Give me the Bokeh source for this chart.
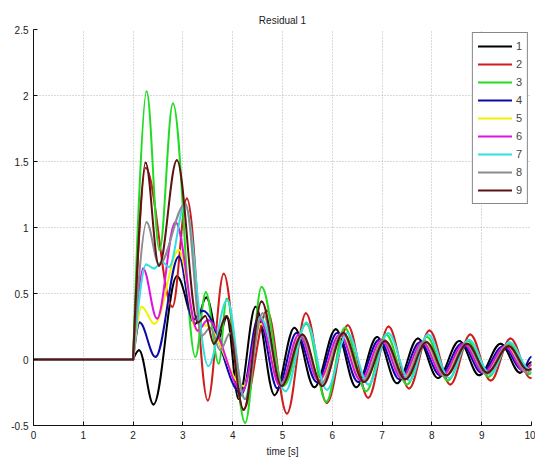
import numpy as np
from bokeh.plotting import figure
from bokeh.models import FixedTicker, Range1d
from bokeh.embed import file_html
from bokeh.resources import INLINE

# ---- data: extrema (time [s], value) ----
names = ["1", "2", "3", "4", "5", "6", "7", "8", "9"]
colors = ["#000000", "#d01c1c", "#22dc22", "#0a0aa5", "#f2f200",
          "#e012e0", "#32e0e0", "#8c8c8c", "#5c1414"]

t1 = [0, 2.0, 2.12, 2.41, 2.88, 3.25, 3.47, 3.72, 3.88, 4.12, 4.46, 4.84, 5.24, 5.64, 6.07, 6.48, 6.9, 7.3, 7.72, 8.12, 8.55, 8.95, 9.38, 9.77, 10.0]
v1 = [0, 0, 0.07, -0.34, 0.63, 0.27, 0.47, 0.16, 0.32, -0.30, 0.40, -0.27, 0.24, -0.21, 0.23, -0.21, 0.17, -0.18, 0.16, -0.14, 0.14, -0.12, 0.12, -0.10, -0.02]

t2 = [0, 2.0, 2.25, 2.79, 3.08, 3.5, 3.82, 4.21, 4.69, 5.09, 5.47, 5.89, 6.31, 6.72, 7.13, 7.54, 7.95, 8.37, 8.77, 9.18, 9.58, 9.98, 10.0]
v2 = [0, 0, 1.45, 0.40, 1.22, -0.31, 0.65, -0.38, 0.37, -0.41, 0.35, -0.33, 0.26, -0.29, 0.25, -0.22, 0.22, -0.19, 0.19, -0.16, 0.16, -0.14, -0.14]

t3 = [0, 2.0, 2.27, 2.53, 2.8, 3.25, 3.46, 3.72, 3.88, 4.25, 4.58, 5.02, 5.48, 5.88, 6.25, 6.68, 7.08, 7.5, 7.9, 8.32, 8.72, 9.14, 9.55, 9.95, 10.0]
v3 = [0, 0, 2.03, 0.83, 1.94, 0.02, 0.51, -0.03, 0.46, -0.48, 0.55, -0.20, 0.27, -0.32, 0.24, -0.24, 0.19, -0.19, 0.17, -0.16, 0.14, -0.13, 0.12, -0.11, -0.10]

t4 = [0, 2.0, 2.13, 2.45, 2.92, 3.2, 3.4, 4.18, 4.52, 4.9, 5.28, 5.69, 6.1, 6.52, 6.94, 7.35, 7.76, 8.17, 8.6, 9.0, 9.43, 9.82, 10.0]
v4 = [0, 0, 0.28, 0.02, 0.78, 0.30, 0.37, -0.26, 0.32, -0.22, 0.20, -0.17, 0.20, -0.17, 0.15, -0.15, 0.13, -0.12, 0.12, -0.10, 0.10, -0.08, 0.02]

t5 = [0, 2.0, 2.17, 2.43, 2.92, 3.28, 3.45, 4.22, 4.57, 4.97, 5.35, 5.76, 6.18, 6.6, 7.02, 7.42, 7.84, 8.24, 8.67, 9.07, 9.5, 9.89, 10.0]
v5 = [0, 0, 0.40, 0.27, 0.83, 0.22, 0.26, -0.20, 0.27, -0.18, 0.17, -0.15, 0.17, -0.15, 0.14, -0.13, 0.12, -0.11, 0.11, -0.10, 0.10, -0.08, -0.05]

t6 = [0, 2.0, 2.2, 2.48, 2.85, 3.3, 3.5, 4.2, 4.55, 4.95, 5.33, 5.73, 6.15, 6.57, 6.99, 7.39, 7.81, 8.21, 8.64, 9.04, 9.47, 9.86, 10.0]
v6 = [0, 0, 0.69, 0.31, 1.04, 0.22, 0.30, -0.24, 0.30, -0.20, 0.19, -0.16, 0.19, -0.16, 0.15, -0.14, 0.13, -0.12, 0.12, -0.10, 0.10, -0.09, -0.04]

t7 = [0, 2.0, 2.26, 2.42, 2.58, 2.72, 3.04, 3.51, 3.89, 4.24, 4.55, 5.06, 5.48, 5.89, 6.3, 6.73, 7.12, 7.55, 7.92, 8.35, 8.74, 9.17, 9.56, 9.97, 10.0]
v7 = [0, 0, 0.72, 0.69, 0.74, 0.70, 1.17, -0.05, 0.45, -0.30, 0.32, -0.24, 0.28, -0.23, 0.20, -0.19, 0.20, -0.16, 0.19, -0.14, 0.15, -0.11, 0.13, -0.08, -0.08]

t8 = [0, 2.0, 2.27, 2.52, 3.05, 3.38, 3.55, 3.75, 3.95, 4.25, 4.6, 4.99, 5.38, 5.78, 6.2, 6.62, 7.04, 7.44, 7.86, 8.26, 8.69, 9.09, 9.52, 9.91, 10.0]
v8 = [0, 0, 1.04, 0.72, 1.18, 0.18, 0.24, 0.07, 0.20, -0.30, 0.35, -0.18, 0.18, -0.18, 0.20, -0.16, 0.15, -0.15, 0.14, -0.13, 0.12, -0.11, 0.11, -0.10, -0.08]

t9 = [0, 2.0, 2.25, 2.52, 2.88, 3.3, 3.45, 3.62, 3.88, 4.22, 4.58, 4.98, 5.4, 5.8, 6.22, 6.64, 7.06, 7.47, 7.89, 8.29, 8.71, 9.11, 9.54, 9.93, 10.0]
v9 = [0, 0, 1.49, 0.71, 1.51, 0.28, 0.33, 0.12, 0.33, -0.38, 0.44, -0.20, 0.19, -0.20, 0.20, -0.17, 0.14, -0.15, 0.13, -0.12, 0.12, -0.10, 0.10, -0.08, -0.07]

x_ticks = [0, 1, 2, 3, 4, 5, 6, 7, 8, 9, 10]
y_ticks = [-0.5, 0, 0.5, 1, 1.5, 2, 2.5]
y_tick_labels = ["-0.5", "0", "0.5", "1", "1.5", "2", "2.5"]

series_t = [t1, t2, t3, t4, t5, t6, t7, t8, t9]
series_v = [v1, v2, v3, v4, v5, v6, v7, v8, v9]

FONT = "Liberation Sans"

p = figure(width=535, height=460, x_range=Range1d(0, 10), y_range=Range1d(-0.5, 2.5),
           output_backend="svg", toolbar_location=None,
           min_border_left=33, min_border_right=4, min_border_top=29, min_border_bottom=35,
           title="Residual 1")

p.background_fill_color = "white"
p.border_fill_color = "white"
p.outline_line_color = None

# smooth curve through the read extrema (horizontal tangents at extrema)
K = 0.3634
for name, col, t, v in zip(names, colors, series_t, series_v):
    t = np.asarray(t, float)
    v = np.asarray(v, float)
    x0, y0, x1, y1 = t[:-1], v[:-1], t[1:], v[1:]
    d = x1 - x0
    cx0 = x0 + K * d
    cy0 = y0.copy()
    cx1 = x1 - K * d
    cy1 = y1.copy()
    onset = np.isclose(x0, 2.0)
    cx0[onset] = x0[onset]
    p.bezier(x0=x0, y0=y0, x1=x1, y1=y1, cx0=cx0, cy0=cy0, cx1=cx1, cy1=cy1,
             line_color=col, line_width=2, line_cap="round", legend_label=name)

# axes
p.xaxis.ticker = FixedTicker(ticks=x_ticks)
p.yaxis.ticker = FixedTicker(ticks=y_ticks)
p.yaxis.major_label_overrides = {tk: lb for tk, lb in zip(y_ticks, y_tick_labels)}
for ax in (p.xaxis, p.yaxis):
    ax.axis_line_color = "#111111"
    ax.axis_line_width = 1
    ax.major_tick_in = 4
    ax.major_tick_out = 0
    ax.major_tick_line_color = "#111111"
    ax.minor_tick_line_color = None
    ax.major_label_text_font = FONT
    ax.major_label_text_font_size = "10px"
    ax.major_label_text_color = "#222222"
    ax.major_label_standoff = 5
p.xaxis.axis_label = "time [s]"
p.xaxis.axis_label_text_font = FONT
p.xaxis.axis_label_text_font_size = "10px"
p.xaxis.axis_label_text_font_style = "normal"
p.xaxis.axis_label_text_color = "#222222"
p.xaxis.axis_label_standoff = 4

# grid
p.grid.grid_line_color = "#b4b4b4"
p.grid.grid_line_dash = "1 2"
p.grid.grid_line_width = 1

# title
p.title.align = "center"
p.title.vertical_align = "top"
p.title.text_font = FONT
p.title.text_font_size = "10px"
p.title.text_font_style = "normal"
p.title.text_color = "#222222"
p.title.standoff = 4

# legend
lg = p.legend[0]
lg.location = "top_right"
lg.margin = 3
lg.padding = 5
lg.spacing = 2
lg.glyph_height = 16
lg.label_height = 16
lg.glyph_width = 34
lg.label_width = 6
lg.label_standoff = 4
lg.label_text_font = FONT
lg.label_text_font_size = "11px"
lg.border_line_color = "#111111"
lg.border_line_width = 1.5
lg.background_fill_color = "white"
lg.background_fill_alpha = 1.0

open("out.html", "w").write(file_html(p, INLINE))
